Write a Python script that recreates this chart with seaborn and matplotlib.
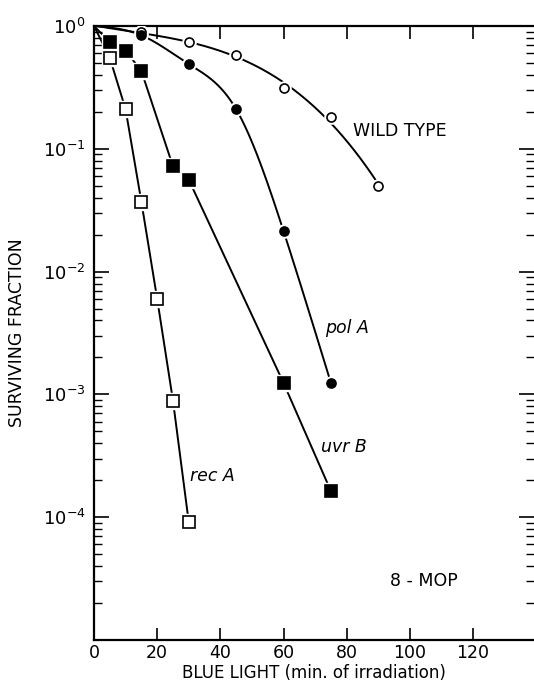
import numpy as np
import pandas as pd
import matplotlib
matplotlib.use("Agg")
import matplotlib.pyplot as plt
import seaborn as sns
from matplotlib.ticker import LogLocator, FixedLocator, NullLocator

# ---- data (minutes of irradiation, surviving fraction) ----
wt_x = [0, 15, 30, 45, 60, 75, 90]
wt_y = [1.0, 0.89, 0.74, 0.58, 0.31, 0.18, 0.050]

pol_x = [0, 15, 30, 45, 60, 75]
pol_y = [1.0, 0.84, 0.49, 0.21, 0.0214, 0.00124]

uvr_x = [0, 5, 10, 15, 25, 30, 60, 75]
uvr_y = [1.0, 0.74, 0.63, 0.43, 0.072, 0.056, 0.00124, 0.000163]

rec_x = [0, 5, 10, 15, 20, 25, 30]
rec_y = [1.0, 0.55, 0.21, 0.037, 0.006, 0.00089, 0.000091]

x_ticks = [0, 20, 40, 60, 80, 100, 120]
y_ticks = [1e0, 1e-1, 1e-2, 1e-3, 1e-4]
y_ticklabels = [r"$10^{0}$", r"$10^{-1}$", r"$10^{-2}$", r"$10^{-3}$", r"$10^{-4}$"]

sns.set_style("ticks")
plt.rcParams['font.family'] = ['DejaVu Sans']
plt.rcParams['text.color'] = 'black'
plt.rcParams['axes.labelcolor'] = 'black'
plt.rcParams['xtick.color'] = 'black'
plt.rcParams['ytick.color'] = 'black'
plt.rcParams['axes.edgecolor'] = 'black'


def fitted_curve(x, y, deg=3, n=400):
    """Smooth least-squares curve (in log space) through the survival data."""
    lx = np.asarray(x, float); ly = np.log10(np.asarray(y, float))
    c = np.polyfit(lx, ly, deg)
    xd = np.linspace(lx[0], lx[-1], n)
    return xd, 10 ** np.polyval(c, xd)


def spline_curve(x, y, n=400):
    """Natural cubic spline (in log space) through the survival data."""
    x = np.asarray(x, float); L = np.log10(np.asarray(y, float))
    k = len(x); h = np.diff(x)
    A = np.zeros((k, k)); b = np.zeros(k)
    A[0, 0] = A[-1, -1] = 1
    for i in range(1, k - 1):
        A[i, i - 1] = h[i - 1]; A[i, i] = 2 * (h[i - 1] + h[i]); A[i, i + 1] = h[i]
        b[i] = 6 * ((L[i + 1] - L[i]) / h[i] - (L[i] - L[i - 1]) / h[i - 1])
    M = np.linalg.solve(A, b)
    xd = np.linspace(x[0], x[-1], n)
    j = np.clip(np.searchsorted(x, xd) - 1, 0, k - 2)
    t1 = x[j + 1] - xd; t0 = xd - x[j]; hj = h[j]
    yd = (M[j] * t1**3 + M[j + 1] * t0**3) / (6 * hj) \
        + (L[j] / hj - M[j] * hj / 6) * t1 + (L[j + 1] / hj - M[j + 1] * hj / 6) * t0
    return xd, 10 ** yd


def broken_curve(x, y):
    return np.asarray(x, float), np.asarray(y, float)


fig = plt.figure(figsize=(5.34, 6.86), dpi=100)
ax = fig.add_axes([94 / 534, 1 - 640 / 686, 1 - 94 / 534, (640 - 26) / 686])

series = [
    ("WILD TYPE", wt_x, wt_y, "o", "white", 6.5, "fit"),
    ("pol A", pol_x, pol_y, "o", "black", 6.5, "spline"),
    ("uvr B", uvr_x, uvr_y, "s", "black", 8.5, "line"),
    ("rec A", rec_x, rec_y, "s", "white", 8, "line"),
]

for name, xs, ys, mk, fc, ms, kind in series:
    if kind == "fit":
        xd, yd = fitted_curve(xs, ys, 3)
    elif kind == "spline":
        xd, yd = spline_curve(xs, ys)
    else:
        xd, yd = broken_curve(xs, ys)
    df = pd.DataFrame({"x": xd, "y": yd})
    sns.lineplot(data=df, x="x", y="y", ax=ax, color="black", lw=1.4,
                 sort=False, estimator=None)
    pts = pd.DataFrame({"x": xs[1:], "y": ys[1:]})
    ax.plot(pts.x, pts.y, ls="none", marker=mk, ms=ms + 3, mfc="white",
            mec="white", zorder=3)
    ax.plot(pts.x, pts.y, ls="none", marker=mk, ms=ms, mfc=fc,
            mec="black", mew=1.2, zorder=4)

ax.set_yscale("log")
ax.set_xlim(0, 139.3)
ax.set_ylim(1e-5, 1.0)

ax.xaxis.set_major_locator(FixedLocator(x_ticks))
ax.xaxis.set_minor_locator(NullLocator())
ax.yaxis.set_major_locator(FixedLocator(y_ticks))
ax.yaxis.set_minor_locator(LogLocator(base=10, subs=np.arange(2, 10), numticks=20))

ax.tick_params(axis="x", which="major", direction="in", length=9, width=1.2,
               top=True, bottom=True, labelsize=12.5, pad=3)
ax.tick_params(axis="y", which="major", direction="in", length=11, width=1.2,
               left=True, right=True, labelsize=13, pad=6)
ax.tick_params(axis="y", which="minor", direction="in", length=6, width=1.0,
               left=True, right=True)
ax.set_yticklabels(y_ticklabels)

for s in ["left", "bottom", "top"]:
    ax.spines[s].set_linewidth(1.6)
ax.spines["right"].set_visible(False)

ax.set_xlabel("BLUE LIGHT (min. of irradiation)", fontsize=12, labelpad=1)
ax.set_ylabel("SURVIVING FRACTION", fontsize=12.5, labelpad=12)

ax.text(82, 0.139, "WILD TYPE", fontsize=12.5, ha="left", va="center")
ax.text(73, 0.0035, "pol A", fontsize=12.5, style="italic", ha="left", va="center")
ax.text(72, 0.00037, "uvr B", fontsize=12.5, style="italic", ha="left", va="center")
ax.text(30.4, 0.000215, "rec A", fontsize=12.5, style="italic", ha="left", va="center")
ax.text(93.7, 3.05e-5, "8 - MOP", fontsize=12.5, ha="left", va="center")

fig.savefig("out.png", dpi=100)
